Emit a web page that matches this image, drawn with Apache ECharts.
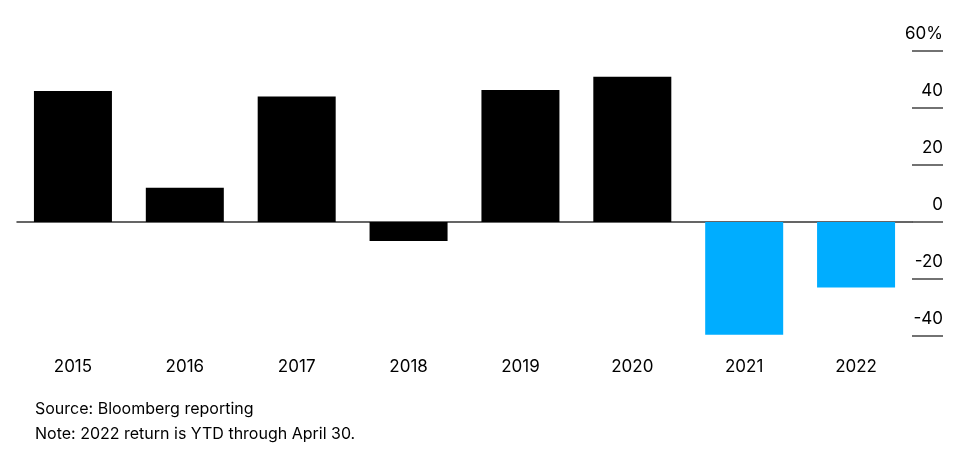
<!DOCTYPE html>
<html>
<head>
<meta charset="utf-8">
<script src="https://cdn.jsdelivr.net/npm/echarts@6/dist/echarts.min.js"></script>
<style>
html,body{margin:0;padding:0;background:#fff}
#main{width:972px;height:466px}
</style>
</head>
<body>
<div id="main"></div>
<script>
var years = ['2015', '2016', '2017', '2018', '2019', '2020', '2021', '2022']
var returns = [46, 12, 44, -6.7, 46.3, 51, -39.6, -23]

var chart = echarts.init(document.getElementById('main'))
var font = 'Inter, "Liberation Sans", sans-serif'

var option = {
	animation: false,
	grid: { left: 17, right: 60, top: 51, bottom: 130, containLabel: false, outerBoundsMode: 'none' },
	xAxis: {
		type: 'category',
		data: years,
		axisLine: { onZero: true, lineStyle: { color: '#333', width: 1.5 } },
		axisTick: { show: false },
		axisLabel: {
			color: '#000', fontSize: 17, fontFamily: font,
			interval: 0,
			margin: 22
		}
	},
	yAxis: {
		type: 'value',
		position: 'right',
		min: -40, max: 60, interval: 20,
		splitLine: { show: false },
		axisLine: { show: false },
		axisTick: { show: true, inside: false, length: 31, lineStyle: { color: '#444', width: 1.5 } },
		axisLabel: {
			color: '#000', fontSize: 17, fontFamily: font,
			align: 'right', verticalAlign: 'bottom', margin: 31,
			padding: [0, 0, 9, 0],
			formatter: function (v) { return v === 60 ? '60%' : String(v) }
		}
	},
	series: [{
		type: 'bar',
		data: returns.map(function (v, i) {
			return { value: v, itemStyle: { color: i >= 6 ? '#00adff' : '#000' } }
		}),
		barWidth: 78
	}],
	graphic: [
		{ type: 'text', left: 35, top: 401, style: { text: 'Source: Bloomberg reporting', fontSize: 16, fontFamily: font, fill: '#000' } },
		{ type: 'text', left: 35, top: 426, style: { text: 'Note: 2022 return is YTD through April 30.', fontSize: 16, fontFamily: font, fill: '#000' } }
	]
}
chart.setOption(option)
</script>
</body>
</html>
